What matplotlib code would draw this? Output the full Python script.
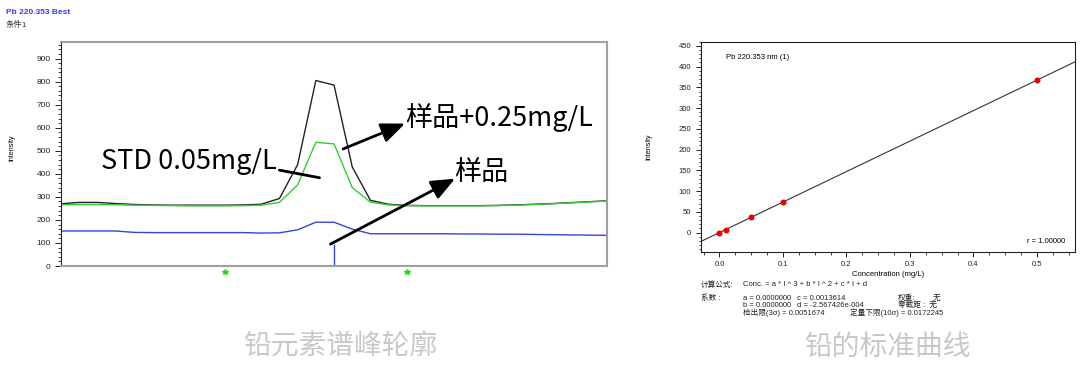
import matplotlib
matplotlib.use("Agg")
import matplotlib.pyplot as plt
from matplotlib.ticker import MultipleLocator, NullLocator

# peak profile data (channel index across the Pb 220.353 window)
channel = list(range(31))
sample_spike = [270, 276, 276, 271, 267, 265, 264, 264, 264, 264, 265, 268, 293, 440, 805,
                785, 430, 285, 268, 263, 262, 262, 262, 262, 263, 265, 268, 271, 275, 279, 283]
std_005 = [266, 267, 267, 266, 264, 263, 262, 261, 261, 261, 262, 264, 276, 352, 537,
           530, 340, 277, 265, 262, 261, 261, 261, 261, 262, 264, 267, 270, 274, 278, 282]
sample = [152, 152, 152, 152, 146, 145, 145, 145, 145, 145, 145, 143, 144, 157, 190,
          190, 160, 140, 140, 140, 140, 140, 139, 139, 138, 138, 137, 136, 135, 134, 133]
peak_marker = 15          # channel with blue marker line
marker_height = 95
bg_channels = [9, 19]     # green background points

# calibration data
conc = [0.0, 0.01, 0.05, 0.1, 0.5]
intensity = [0.0, 7.3, 36.9, 73.6, 368.5]
coef_c = 0.0013614
coef_d = -2.567426e-4

latin = ["Liberation Sans", "Noto Sans CJK SC"]
cjk = ["Noto Sans CJK SC", "DejaVu Sans"]

fig = plt.figure(figsize=(10.8, 3.65), dpi=100)

# ---------------- left: peak profile ----------------
ax = fig.add_axes([0.0565, 0.2712, 0.5056, 0.6137])
ax.plot(channel, sample_spike, color="#222222", lw=1.0)
ax.plot(channel, std_005, color="#33cc33", lw=1.0)
ax.plot(channel, sample, color="#3344dd", lw=1.0)
ax.vlines(peak_marker, 0, marker_height, color="#3344dd", lw=1.0)
ax.plot(bg_channels, [-26, -26], ls="none", marker="*", ms=4, color="#22dd22", clip_on=False)
ax.set_xlim(0, 30)
ax.set_ylim(0, 972)
ax.xaxis.set_major_locator(NullLocator())
ax.yaxis.set_major_locator(MultipleLocator(100))
ax.yaxis.set_minor_locator(MultipleLocator(20))
ax.tick_params(axis="y", which="major", length=4, width=0.7, labelsize=6, colors="#222222")
ax.tick_params(axis="y", which="minor", length=2, width=0.6, colors="#222222")
for t in ax.get_yticklabels():
    t.set_family(latin)
for s in ["top", "right", "bottom"]:
    ax.spines[s].set_color("#a0a0a0")
    ax.spines[s].set_linewidth(1.5)
ax.spines["left"].set_color("#222222")
ax.spines["left"].set_linewidth(0.8)
ax.set_ylabel("Intensity", fontsize=5, family=latin)
ax.yaxis.set_label_coords(-0.084, 0.53)

arrow = dict(arrowstyle="-|>,head_length=0.72,head_width=0.3", color="black", lw=2.0,
             shrinkA=0, shrinkB=0, mutation_scale=20)
ax.annotate("", xy=(14.2, 383), xytext=(12.0, 416),
            arrowprops=dict(arrowstyle="-", color="black", lw=2.0, shrinkA=0, shrinkB=0))
ax.text(2.2, 455, "STD 0.05mg/L", fontsize=19.5, family=cjk, va="center", ha="left")
ax.annotate("", xy=(18.9, 618), xytext=(15.5, 508), arrowprops=arrow)
ax.text(18.9, 644, "样品+0.25mg/L", fontsize=19.5, family=cjk, va="center", ha="left")
ax.annotate("", xy=(21.65, 379), xytext=(14.8, 95), arrowprops=arrow)
ax.text(21.6, 405, "样品", fontsize=19.5, family=cjk, va="center", ha="left")

fig.text(6 / 1080, 1 - 12 / 365, "Pb 220.353 Best", fontsize=6, color="#3b3bf0",
         family=latin, va="center", weight="bold")
fig.text(6 / 1080, 1 - 24.5 / 365, "条件1", fontsize=6, color="#333333",
         family=latin, va="center")

# ---------------- right: calibration curve ----------------
ax2 = fig.add_axes([0.6491, 0.3104, 0.3463, 0.5753])
xlim = (-0.029, 0.560)
fit_y = [(x - coef_d) / coef_c for x in xlim]
ax2.plot(xlim, fit_y, color="#333333", lw=0.8)
ax2.plot(conc, intensity, ls="none", marker="o", ms=3.3, color="#ee0000")
ax2.set_xlim(*xlim)
ax2.set_ylim(-46, 460)
ax2.xaxis.set_major_locator(MultipleLocator(0.1))
ax2.xaxis.set_minor_locator(MultipleLocator(0.025))
ax2.yaxis.set_major_locator(MultipleLocator(50))
ax2.yaxis.set_minor_locator(MultipleLocator(10))
ax2.xaxis.set_major_formatter(plt.FuncFormatter(lambda v, p: f"{v:.1f}"))
ax2.tick_params(which="major", length=3.5, width=0.7, labelsize=5.5, colors="#222222")
ax2.tick_params(which="minor", length=1.8, width=0.6, colors="#222222")
for t in ax2.get_xticklabels() + ax2.get_yticklabels():
    t.set_family(latin)
for s in ax2.spines.values():
    s.set_color("#222222")
    s.set_linewidth(0.8)
ax2.set_xlabel("Concentration (mg/L)", fontsize=5.5, family=latin, labelpad=2)
ax2.set_ylabel("Intensity", fontsize=5, family=latin)
ax2.yaxis.set_label_coords(-0.131, 0.5)
ax2.text(0.01, 421, "Pb 220.353 nm (1)", fontsize=5.5, family=latin, va="center")
ax2.text(0.545, -22, "r = 1.00000", fontsize=5.5, family=latin, va="center", ha="right")

fs = 5.5
def ftext(x, y, s):
    fig.text(x / 1080, 1 - y / 365, s, fontsize=fs, family=latin, va="center", color="#222222")

ftext(701, 285, "计算公式:")
ftext(743, 285, "Conc. = a * I ^ 3 + b * I ^ 2 + c * I + d")
ftext(701, 298, "系数 :")
ftext(743, 298, "a = 0.0000000")
ftext(797, 298, "c = 0.0013614")
ftext(898, 298, "权重:")
ftext(933, 298, "无")
ftext(743, 305.5, "b = 0.0000000")
ftext(797, 305.5, "d = -2.567426e-004")
ftext(898, 305.5, "零截距 :  无")
ftext(743, 313, "检出限(3σ) = 0.0051674")
ftext(850, 313, "定量下限(10σ) = 0.0172245")

# captions
fig.text(340 / 1080, 1 - 347 / 365, "铅元素谱峰轮廓", fontsize=20, color="#c8c8c8",
         family=cjk, ha="center", va="center")
fig.text(887 / 1080, 1 - 347 / 365, "铅的标准曲线", fontsize=20, color="#c8c8c8",
         family=cjk, ha="center", va="center")

fig.savefig("out.png", dpi=100)
